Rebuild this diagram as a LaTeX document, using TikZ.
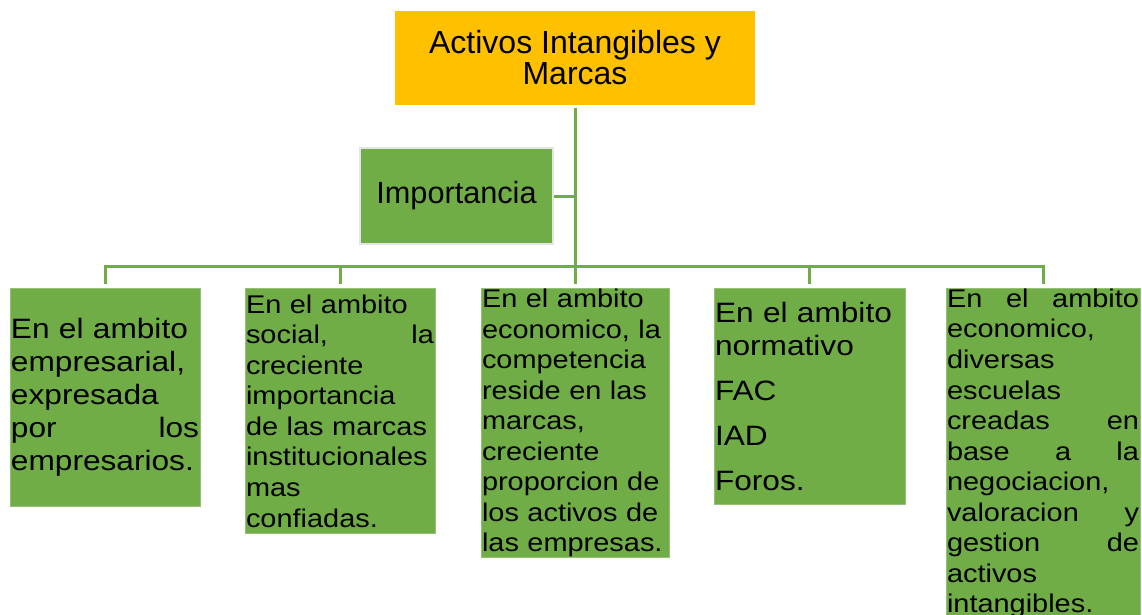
\documentclass[tikz,border=0pt]{standalone}
\usepackage{fontspec}
\setmainfont{Liberation Sans}
\newfontfamily\widefont[FakeStretch=1.13]{Liberation Sans}
\newdimen\px \px=0.75pt
\definecolor{titleorange}{HTML}{FFC000}
\definecolor{leafgreen}{HTML}{70AD47}
\tikzstyle{title}=[rectangle,fill=titleorange,inner sep=0pt,align=center,font=\fontsize{24}{23.25}\selectfont]
\tikzstyle{topic}=[rectangle,fill=leafgreen,draw=black!10,line width=2\px,inner sep=0pt,font=\fontsize{23}{27}\selectfont]
\tikzstyle{leaf}=[rectangle,fill=leafgreen,draw=leafgreen!75!white,line width=0.75pt,inner xsep=1\px,inner ysep=0pt,align=left,anchor=north]
\tikzstyle{bigtext}=[font=\widefont\fontsize{21}{24.75}\selectfont]
\tikzstyle{smalltext}=[font=\widefont\fontsize{19.2}{22.9}\selectfont]
\tikzstyle{branch}=[leafgreen,line width=3\px]

\begin{document}
\begin{tikzpicture}[x=0.75pt,y=-0.75pt]
      \useasboundingbox (0,0) rectangle (1142,614);
      \node [title,minimum width=360\px,minimum height=94\px] (title) at (575,58) {Activos Intangibles y\\Marcas};
      \node [topic,minimum width=193\px,minimum height=96\px] (imp) at (456.5,196) {Importancia};
      \node [leaf,bigtext,text width=188\px,minimum height=218\px] (b1) at (105,288)
        {En el ambito\\empresarial,\\expresada\\por\hfill los\\empresarios.};
      \node [leaf,smalltext,text width=188\px,minimum height=245\px] (b2) at (340,288)
        {En el ambito\\social,\hfill la\\creciente\\importancia\\de las marcas\\institucionales\\mas\\confiadas.};
      \node [leaf,smalltext,text width=186\px,minimum height=269\px] (b3) at (575,288)
        {En el ambito\\economico, la\\competencia\\reside en las\\marcas,\\creciente\\proporcion de\\los activos de\\las empresas.};
      \node [leaf,bigtext,text width=189\px,minimum height=216\px] (b4) at (809.5,288)
        {En el ambito\\normativo\\[9pt]FAC\\[9pt]IAD\\[9pt]Foros.};
      \node [leaf,smalltext,text width=192\px,minimum height=330\px] (b5) at (1043,288)
        {En\hfill el\hfill ambito\\economico,\\diversas\\escuelas\\creadas\hfill en\\base\hfill a\hfill la\\negociacion,\\valoracion\hfill y\\gestion\hfill de\\activos\\intangibles.};
      \coordinate (hub) at (575,266);
      \draw [branch,shorten <=3\px,shorten >=4\px] (title.south) -- (b3.north);
      \draw [branch] (imp.east) -- (imp.east -| title.south);
      \foreach \leaf in {b1,b2,b4,b5}
        \draw [branch,shorten >=4\px] (hub) -| (\leaf.north);
    \end{tikzpicture}
\end{document}
